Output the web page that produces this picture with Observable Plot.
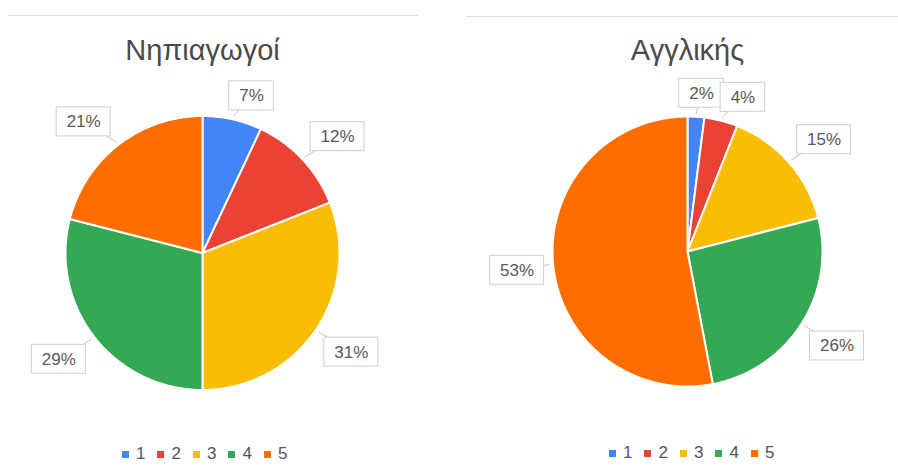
<!DOCTYPE html>
<html><head><meta charset="utf-8">
<script src="https://cdn.jsdelivr.net/npm/d3@7"></script>
<script src="https://cdn.jsdelivr.net/npm/@observablehq/plot@0.6"></script>
<style>
body{margin:0;background:#fff;}
#wrap{display:flex;width:898px;height:475px;overflow:hidden;font-family:"Liberation Sans",Arial,sans-serif;}
.cell{position:relative;width:449px;height:475px;}
.sep{position:absolute;height:1px;background:#e0e0e0;}
</style></head><body><div id="wrap"></div>
<script>
const categories = ["1", "2", "3", "4", "5"];
const sliceColors = ["#4285f4", "#ea4335", "#fbbc04", "#34a853", "#ff6d01"];
const titleLeft = "Νηπιαγωγοί";
const valuesLeft = [7, 12, 31, 29, 21];
const titleRight = "Αγγλικής";
const valuesRight = [2, 4, 15, 26, 53];

function pieChart(title, values, L) {
  const {cx, cy, r, width, height} = L;
  const total = d3.sum(values);
  let acc = 0;
  const slices = values.map((v, i) => {
    const a0 = acc / total * 2 * Math.PI; acc += v;
    const a1 = acc / total * 2 * Math.PI;
    return {cat: categories[i], v, a0, a1};
  });
  const points = [];
  for (const s of slices) {
    const n = Math.max(2, Math.ceil((s.a1 - s.a0) / (Math.PI / 180)));
    points.push({cat: s.cat, x: 0, y: 0});
    for (let k = 0; k <= n; k++) {
      const a = s.a0 + (s.a1 - s.a0) * k / n;
      points.push({cat: s.cat, x: Math.sin(a), y: Math.cos(a)});
    }
    points.push({cat: s.cat, x: 0, y: 0});
  }
  const fs = 17, boxH = 29, pad = 10, gap = 6, tipOut = 3;
  const labels = slices.map(s => {
    const text = Math.round(s.v / total * 100) + "%";
    const digits = text.length - 1;
    const w = digits * 0.556 * fs + 0.889 * fs + 2 * pad;
    const m = (s.a0 + s.a1) / 2;
    const sx = Math.sin(m), sy = Math.cos(m);
    const tr = 1 + tipOut / r;
    const tx = sx * tr, ty = sy * tr;
    const fx = Math.sign(sx) * Math.min(1, Math.abs(sx) * 3);
    const fy = Math.sign(sy) * Math.min(1, Math.abs(sy) * 3);
    const lx = tx + fx * (w / 2 + gap) / r;
    const ly = ty + fy * (boxH / 2 + gap) / r;
    return {cat: s.cat, text, tx, ty, lx, ly,
      x1: lx - w / 2 / r, x2: lx + w / 2 / r, y1: ly - boxH / 2 / r, y2: ly + boxH / 2 / r};
  });
  const font = "'Liberation Sans', Arial, sans-serif";
  return Plot.plot({
    width, height,
    marginLeft: cx - r, marginRight: width - cx - r,
    marginTop: cy - r, marginBottom: height - cy - r,
    x: {domain: [-1, 1], axis: null},
    y: {domain: [-1, 1], axis: null},
    color: {domain: categories, range: sliceColors},
    style: {fontFamily: font, overflow: "visible", background: "white"},
    marks: [
      Plot.line(points, {x: "x", y: "y", z: "cat", fill: "cat", stroke: "white", strokeWidth: 2, strokeLinejoin: "round"}),
      Plot.link(labels, {x1: "tx", y1: "ty", x2: "lx", y2: "ly", stroke: "#c4c4c4", strokeWidth: 1}),
      Plot.rect(labels, {x1: "x1", x2: "x2", y1: "y1", y2: "y2", fill: "white", stroke: "#cfcfcf", strokeWidth: 1}),
      Plot.text(labels, {x: "lx", y: "ly", text: "text", fontSize: fs, fill: "#595959"}),
      Plot.text([title], {text: d => d, frameAnchor: "top", dy: 39 - (cy - r), fontSize: 29, fill: "#4a4a4a"})
    ]
  });
}

function addCell(title, values, L) {
  const cell = document.createElement("div");
  cell.className = "cell";
  const sep = document.createElement("div");
  sep.className = "sep";
  sep.style.left = L.sepLeft + "px"; sep.style.width = L.sepWidth + "px"; sep.style.top = L.sepTop + "px";
  const chart = pieChart(title, values, L);
  chart.style.display = "block";
  cell.appendChild(chart);
  cell.appendChild(sep);
  const legend = Plot.legend({color: {domain: categories, range: sliceColors}, legend: "swatches", swatchSize: 7});
  legend.style.position = "absolute";
  legend.style.left = L.legendLeft + "px";
  legend.style.top = L.legendTop + "px";
  legend.style.margin = "0";
  legend.style.display = "flex";
  legend.style.alignItems = "center";
  legend.style.minHeight = "0";
  legend.style.fontFamily = "'Liberation Sans', Arial, sans-serif";
  legend.style.fontSize = "17px";
  legend.style.color = "#555";
  legend.style.whiteSpace = "nowrap";
  for (const sw of legend.querySelectorAll("span")) {
    sw.style.display = "inline-flex";
    sw.style.alignItems = "center";
    sw.style.marginRight = "12px";
    const svg = sw.querySelector("svg");
    if (svg) svg.style.marginRight = "7px";
  }
  cell.appendChild(legend);
  document.getElementById("wrap").appendChild(cell);
}

addCell(titleLeft, valuesLeft, {cx: 202, cy: 252.5, r: 137, width: 449, height: 438, sepLeft: 8, sepWidth: 410, sepTop: 15, legendLeft: 122, legendTop: 444});
addCell(titleRight, valuesRight, {cx: 238, cy: 251, r: 135, width: 449, height: 438, sepLeft: 17, sepWidth: 432, sepTop: 16, legendLeft: 160, legendTop: 443});
</script></body></html>
